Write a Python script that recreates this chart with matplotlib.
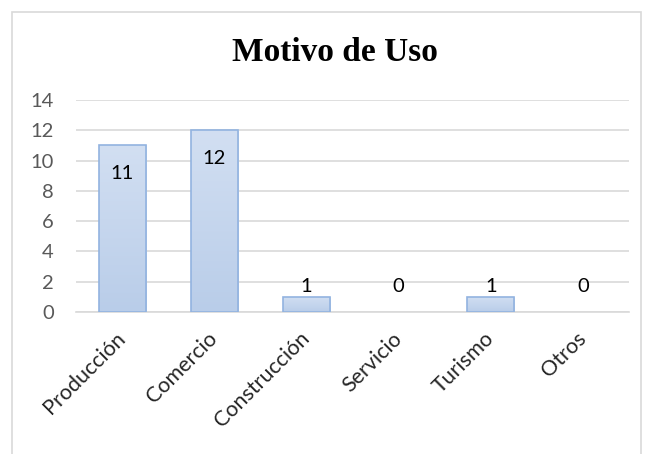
import matplotlib.pyplot as plt
import numpy as np
from matplotlib.colors import LinearSegmentedColormap
from matplotlib.patches import Rectangle

categories = ['Producción', 'Comercio', 'Construcción', 'Servicio', 'Turismo', 'Otros']
values = [11, 12, 1, 0, 1, 0]
y_ticks = [0, 2, 4, 6, 8, 10, 12, 14]

plt.rcParams['font.family'] = ['Lato', 'DejaVu Sans']

fig = plt.figure(figsize=(6.46, 4.54), dpi=100)
ax = fig.add_axes([0.1176, 0.3128, 0.8561, 0.4669])

x = range(len(categories))
edge_widths = [1.2 if v > 0 else 0 for v in values]
bars = ax.bar(x, values, width=0.51, facecolor='none', edgecolor='#92b3e0',
              linewidth=edge_widths, zorder=3)

# light vertical gradient inside the bars, as in the office chart
grad_cmap = LinearSegmentedColormap.from_list('bar_grad', ['#b9cde9', '#d2dff2'])
grad = np.linspace(0, 1, 256).reshape(-1, 1)
for b in bars:
    h = b.get_height()
    if h <= 0:
        continue
    x0 = b.get_x()
    im = ax.imshow(grad, cmap=grad_cmap, origin='lower', aspect='auto',
                   extent=[x0, x0 + b.get_width(), 0, h], zorder=2.9)
    im.set_clip_path(b)

ax.set_xlim(-0.5, len(categories) - 0.5)
ax.set_ylim(0, 14)
ax.set_yticks(y_ticks)
ax.yaxis.grid(True, color='#d9d9d9', linewidth=1.2, zorder=0)
ax.set_axisbelow(True)
for side in ['top', 'right', 'left']:
    ax.spines[side].set_visible(False)
ax.spines['bottom'].set_color('#d9d9d9')
ax.spines['bottom'].set_linewidth(1.2)
ax.tick_params(axis='both', length=0)
ax.tick_params(axis='y', labelsize=14.5, labelcolor='#595959', pad=16)
ax.set_xticks(list(x))
ax.set_xticklabels(categories, rotation=45, ha='right', va='center',
                   rotation_mode='anchor', fontsize=15.5, color='#262626')
ax.tick_params(axis='x', pad=17)

# value labels: inside the tall bars, above the short ones
for i, v in enumerate(values):
    if v >= 5:
        ax.annotate(str(v), (i, v), xytext=(0, -14), textcoords='offset points',
                    ha='center', va='top', fontsize=14.5, color='black', zorder=4)
    else:
        ax.annotate(str(v), (i, max(v, 1)), xytext=(0, 1), textcoords='offset points',
                    ha='center', va='bottom', fontsize=14.5, color='black', zorder=4)

fig.text(0.519, 0.885, 'Motivo de Uso', ha='center', va='center',
         fontsize=24, fontweight='bold', family=['Liberation Serif', 'DejaVu Serif'])

fig.patches.append(Rectangle((12, -10), 629, 452, transform=None, fill=False,
                             edgecolor='#d9d9d9', linewidth=1.2))

fig.savefig('out.png', dpi=100)
